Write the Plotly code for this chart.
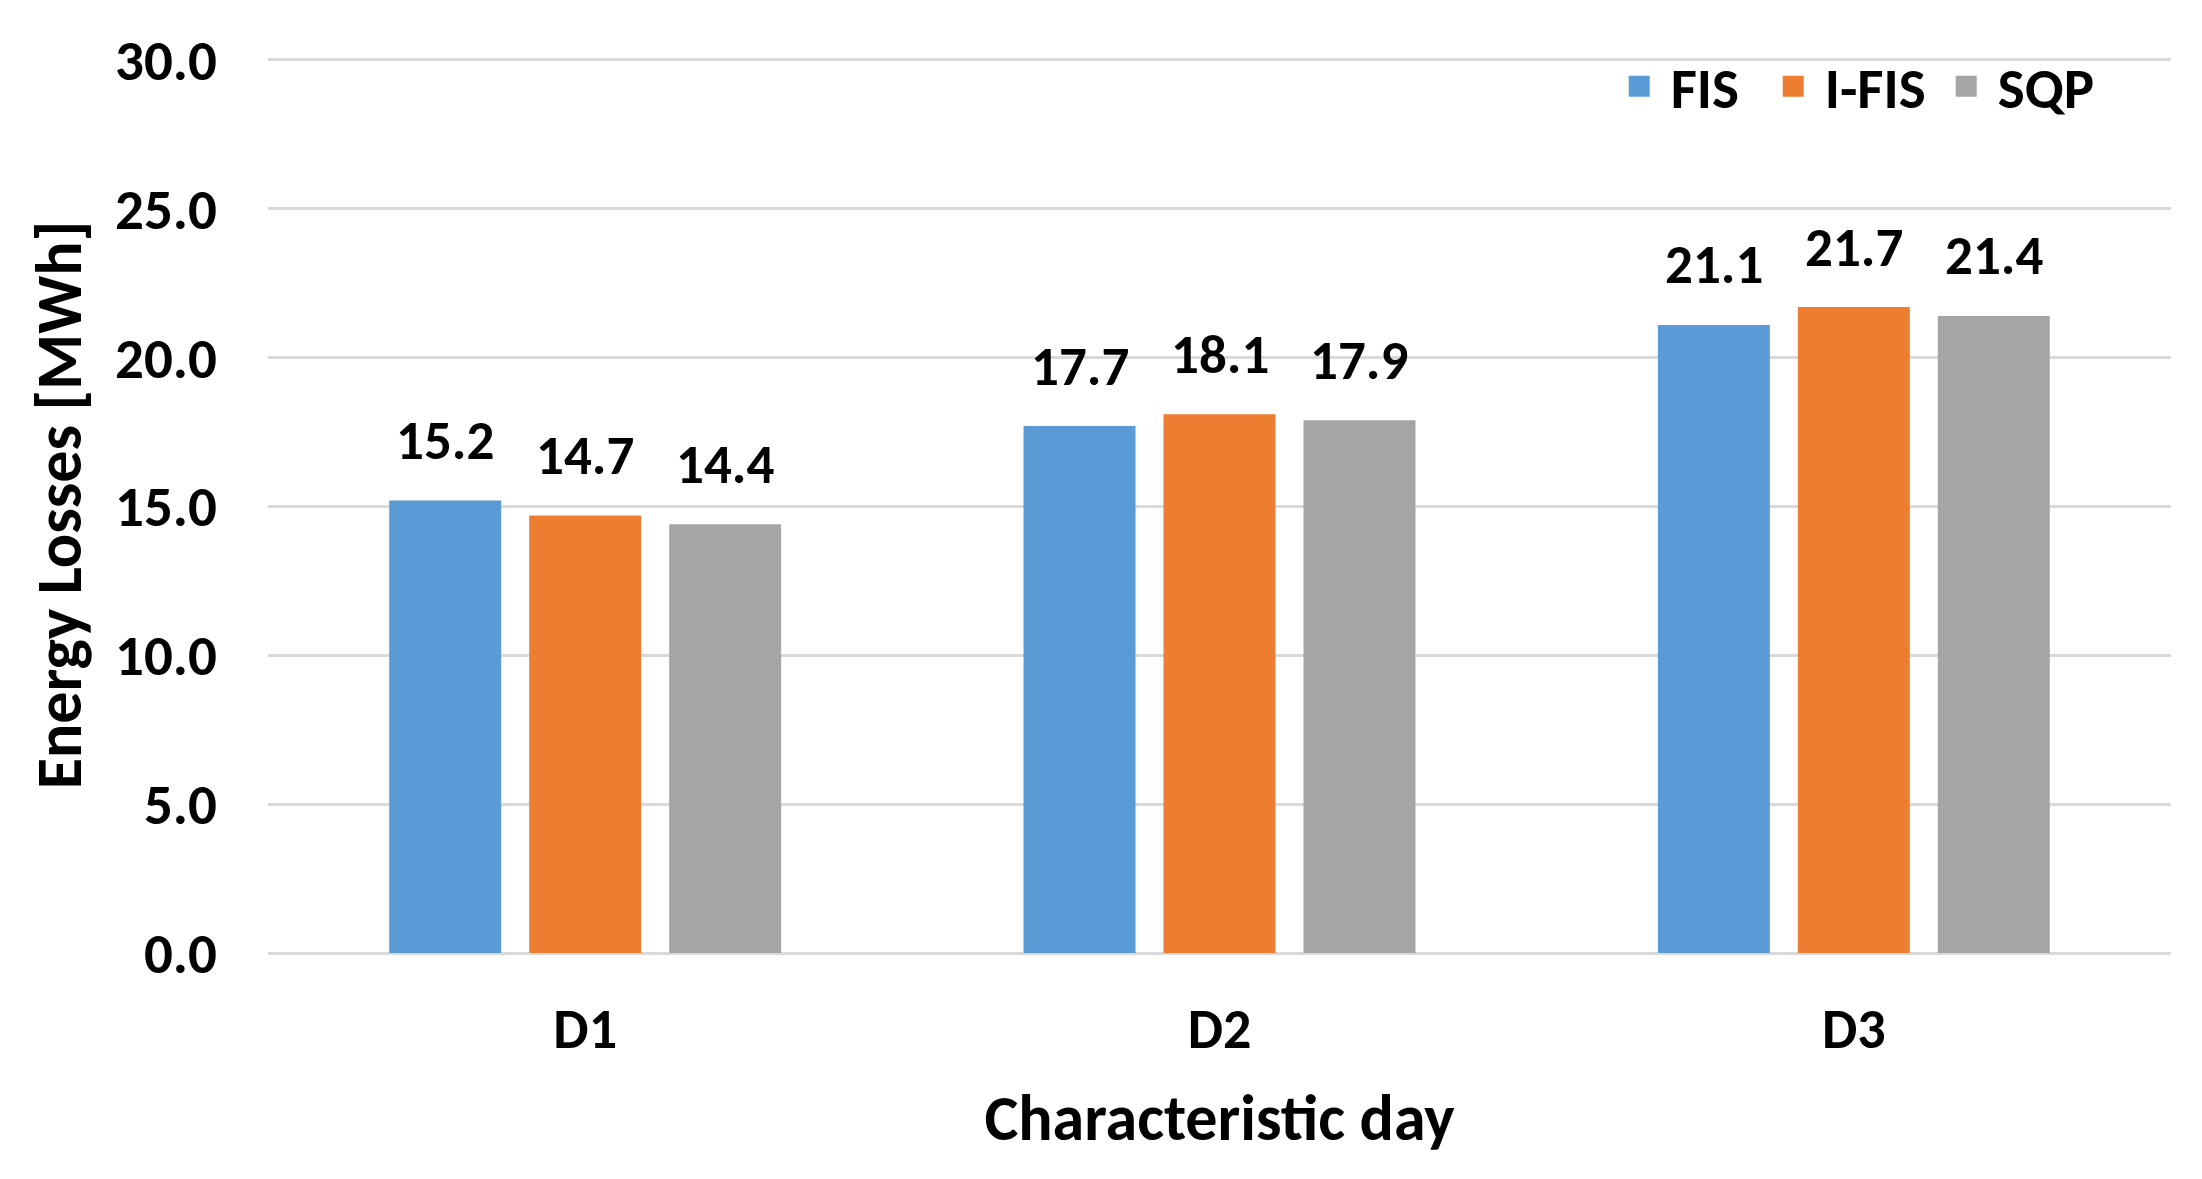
import plotly.graph_objects as go

categories = ["D1", "D2", "D3"]
series_names = ["FIS", "I-FIS", "SQP"]
fis = [15.2, 17.7, 21.1]
ifis = [14.7, 18.1, 21.7]
sqp = [14.4, 17.9, 21.4]
colors = ["#5B9BD5", "#ED7D31", "#A5A5A5"]
y_ticks = [0, 5, 10, 15, 20, 25, 30]

FONT = "Carlito, Calibri, Lato, sans-serif"
BARGAP = 0.338
BARGROUPGAP = 0.2
legend_entry_widths = [86, 105, 0]

fig = go.Figure()
all_series = [fis, ifis, sqp]
for name, vals, col in zip(series_names, all_series, colors):
    fig.add_trace(go.Bar(
        x=categories, y=vals, name=name,
        marker=dict(color=col, line=dict(width=0)),
        showlegend=False, legendgroup=name,
    ))
# legend entries (larger square swatches)
for name, col, lw in zip(series_names, colors, legend_entry_widths):
    fig.add_trace(go.Scatter(
        x=[None], y=[None], mode="markers", name=name, legendgroup=name,
        marker=dict(symbol="square", size=16, color=col, line=dict(color=col, width=5)),
        hoverinfo="skip", legendwidth=lw if lw else None,
    ))

# data labels above bars
slot = (1 - BARGAP) / len(all_series)
for i, vals in enumerate(all_series):
    for j, v in enumerate(vals):
        fig.add_annotation(
            x=j + (i - (len(all_series) - 1) / 2) * slot, y=v,
            xref="x", yref="y", text=f"<b>{v:.1f}</b>", showarrow=False,
            yanchor="middle", yshift=60,
            font=dict(family=FONT, size=55, color="#000000"),
        )

fig.update_layout(
    width=2202, height=1179,
    barmode="group", bargap=BARGAP, bargroupgap=BARGROUPGAP,
    plot_bgcolor="white", paper_bgcolor="white",
    margin=dict(l=268, r=31, t=57, b=226),
    font=dict(family=FONT, size=55, color="#000000"),
    legend=dict(
        orientation="h", x=0.704, xanchor="left", y=1.016, yanchor="top",
        font=dict(family=FONT, size=57, color="#000000", weight="bold"),
        bgcolor="rgba(0,0,0,0)", itemwidth=53, tracegroupgap=0, borderwidth=0,
    ),
    showlegend=True,
)
fig.update_xaxes(
    type="category",
    tickfont=dict(family=FONT, size=56, color="#000000", weight="bold"),
    title=dict(text="<b>Characteristic day</b>", font=dict(family=FONT, size=64, color="#000000"), standoff=33),
    showgrid=False, showline=False, ticks="", ticklabelstandoff=38,
)
fig.update_yaxes(
    range=[0, 30.1], tickvals=y_ticks, tickformat=".1f",
    tickfont=dict(family=FONT, size=57, color="#000000", weight="bold"),
    title=dict(text="<b>Energy Losses [MWh]</b>", font=dict(family=FONT, size=64, color="#000000"), standoff=12),
    showgrid=True, gridcolor="#D9D9D9", gridwidth=3,
    zeroline=True, zerolinecolor="#D9D9D9", zerolinewidth=3,
    showline=False, ticks="", ticklabelstandoff=50,
)

fig.write_html("out.html", config={"displayModeBar": False},
               post_script="document.body.style.margin='0';")
